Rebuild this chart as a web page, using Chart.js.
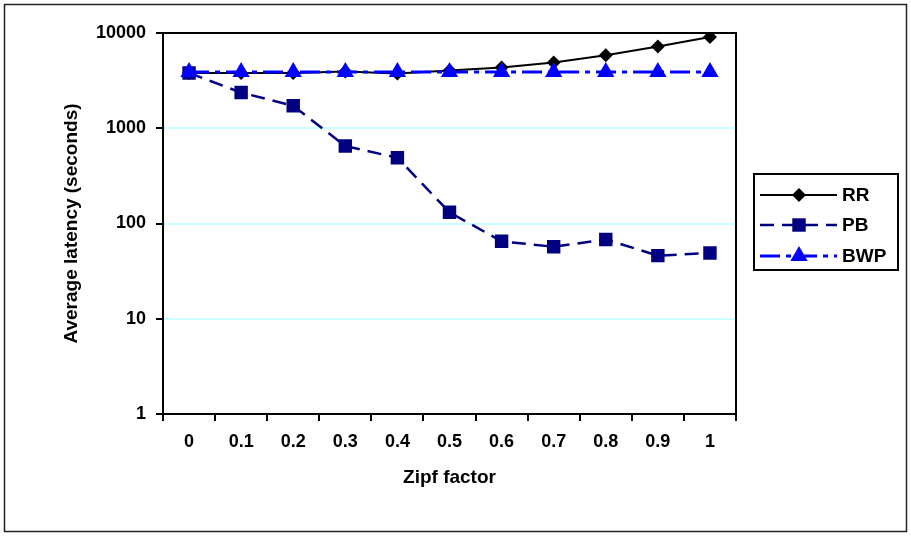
<!DOCTYPE html>
<html>
<head>
<meta charset="utf-8">
<script src="https://cdn.jsdelivr.net/npm/chart.js@4/dist/chart.umd.min.js"></script>
<style>
html,body{margin:0;padding:0;background:#fff;}
canvas{display:block;}
</style>
</head>
<body>
<canvas id="c" width="911" height="536"></canvas>
<script>
const categories = ['0','0.1','0.2','0.3','0.4','0.5','0.6','0.7','0.8','0.9','1'];
const rrValues  = [3800, 3800, 3800, 3950, 3750, 4050, 4350, 4900, 5850, 7200, 9100];
const pbValues  = [3800, 2370, 1720, 650, 490, 131, 65, 57, 68, 46, 49];
const bwpValues = [3900, 3900, 3900, 3900, 3900, 3900, 3900, 3900, 3900, 3900, 3900];
const yTickValues = [1, 10, 100, 1000, 10000];
const yTickLabels = ['1', '10', '100', '1000', '10000'];
const seriesNames = ['RR', 'PB', 'BWP'];

const FONT = "'Liberation Sans', Arial, Helvetica, sans-serif";

const frameAndBorder = {
  id: 'frameAndBorder',
  beforeDraw(chart) {
    const ctx = chart.ctx;
    ctx.save();
    ctx.fillStyle = '#fff';
    ctx.fillRect(0, 0, chart.width, chart.height);
    ctx.strokeStyle = '#222';
    ctx.lineWidth = 1.5;
    ctx.strokeRect(4.5, 4.5, chart.width - 9, chart.height - 9);
    ctx.restore();
  },
  beforeDatasetsDraw(chart) {
    const {ctx, chartArea: a} = chart;
    ctx.save();
    ctx.strokeStyle = '#000';
    ctx.lineWidth = 2;
    ctx.beginPath();
    ctx.moveTo(a.left, a.top);
    ctx.lineTo(a.right, a.top);
    ctx.lineTo(a.right, a.bottom);
    ctx.stroke();
    ctx.restore();
  }
};

function drawMarker(ctx, style, x, y, r, color) {
  ctx.fillStyle = color;
  ctx.strokeStyle = color;
  ctx.setLineDash([]);
  ctx.beginPath();
  if (style === 'rectRot') {
    ctx.moveTo(x, y - r); ctx.lineTo(x + r, y); ctx.lineTo(x, y + r); ctx.lineTo(x - r, y);
  } else if (style === 'rect') {
    const s = Math.SQRT1_2 * r;
    ctx.rect(x - s, y - s, 2 * s, 2 * s);
  } else if (style === 'triangle') {
    ctx.moveTo(x, y - r);
    ctx.lineTo(x + r * Math.sin(2 * Math.PI / 3), y + r / 2);
    ctx.lineTo(x - r * Math.sin(2 * Math.PI / 3), y + r / 2);
  }
  ctx.closePath();
  ctx.fill();
}

const boxLegend = {
  id: 'boxLegend',
  afterDraw(chart) {
    const ctx = chart.ctx;
    const bx = 754, by = 174, bw = 144, bh = 96;
    ctx.save();
    ctx.strokeStyle = '#000';
    ctx.lineWidth = 2;
    ctx.strokeRect(bx, by, bw, bh);
    const ys = [195, 225, 256];
    chart.data.datasets.forEach((ds, i) => {
      const y = ys[i];
      ctx.strokeStyle = ds.borderColor;
      ctx.lineWidth = ds.borderWidth;
      ctx.setLineDash(ds.borderDash || []);
      ctx.beginPath();
      ctx.moveTo(760, y);
      ctx.lineTo(837, y);
      ctx.stroke();
      drawMarker(ctx, ds.pointStyle, 799, y, ds.pointRadius, ds.pointBackgroundColor);
      ctx.fillStyle = '#000';
      ctx.font = "bold 19px " + FONT;
      ctx.textBaseline = 'middle';
      ctx.textAlign = 'left';
      ctx.fillText(ds.label, 842, y + 1);
    });
    ctx.restore();
  }
};

new Chart(document.getElementById('c'), {
  type: 'line',
  data: {
    labels: categories,
    datasets: [
      {
        label: seriesNames[0], data: rrValues,
        borderColor: '#000000', borderWidth: 2,
        pointStyle: 'rectRot', pointRadius: 7,
        pointBackgroundColor: '#000000', pointBorderColor: '#000000', pointBorderWidth: 0,
        tension: 0, order: 2
      },
      {
        label: seriesNames[1], data: pbValues,
        borderColor: '#000080', borderWidth: 2.5, borderDash: [14, 8],
        pointStyle: 'rect', pointRadius: 9.5,
        pointBackgroundColor: '#000080', pointBorderColor: '#000080', pointBorderWidth: 0,
        tension: 0, order: 1
      },
      {
        label: seriesNames[2], data: bwpValues,
        borderColor: '#0000FF', borderWidth: 3, borderDash: [20, 6, 5, 6],
        pointStyle: 'triangle', pointRadius: 10,
        pointBackgroundColor: '#0000FF', pointBorderColor: '#0000FF', pointBorderWidth: 0,
        tension: 0, order: 0
      }
    ]
  },
  options: {
    responsive: false,
    animation: false,
    layout: { padding: { left: 56, right: 175, top: 33, bottom: 43 } },
    plugins: { legend: { display: false }, tooltip: { enabled: false } },
    scales: {
      x: {
        type: 'category',
        offset: true,
        grid: { offset: true, drawOnChartArea: false, tickColor: '#000', tickLength: 7, lineWidth: 2 },
        border: { display: true, color: '#000', width: 2 },
        ticks: { color: '#000', font: { family: FONT, size: 18, weight: 'bold' }, padding: 10, maxRotation: 0, autoSkip: false },
        title: { display: true, text: 'Zipf factor', color: '#000', font: { family: FONT, size: 19, weight: 'bold' }, padding: { top: 4, bottom: 4 } },
        afterFit(scale) { scale.height = 79; }
      },
      y: {
        type: 'logarithmic',
        min: 1, max: 10000,
        afterBuildTicks(scale) { scale.ticks = yTickValues.map(v => ({ value: v })); },
        grid: {
          color: (c) => (c.tick && c.tick.value > 1 && c.tick.value < 10000) ? '#CCFFFF' : 'rgba(0,0,0,0)',
          tickColor: '#000', tickLength: 7, lineWidth: 2
        },
        border: { display: true, color: '#000', width: 2 },
        ticks: {
          color: '#000', font: { family: FONT, size: 18, weight: 'bold' }, padding: 10,
          callback: (v) => { const i = yTickValues.indexOf(v); return i >= 0 ? yTickLabels[i] : ''; }
        },
        title: { display: true, text: 'Average latency (seconds)', color: '#000', font: { family: FONT, size: 19, weight: 'bold' }, padding: { top: 4, bottom: 4 } },
        afterFit(scale) { scale.width = 107; }
      }
    }
  },
  plugins: [frameAndBorder, boxLegend]
});
</script>
</body>
</html>
